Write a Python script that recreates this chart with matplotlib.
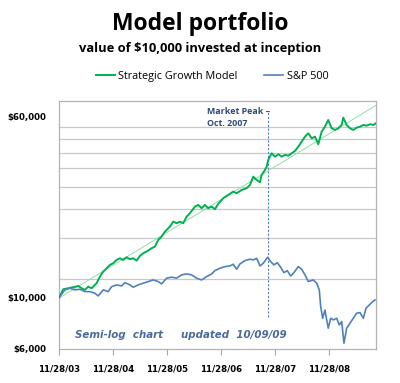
import datetime as dt

import matplotlib
matplotlib.use("Agg")
import matplotlib.pyplot as plt
import numpy as np

# years since inception (11/28/03) and portfolio value in $
inception = dt.datetime(2003, 11, 28)

growth_t = [0.0, 0.074, 0.167, 0.259, 0.352, 0.415, 0.476, 0.537, 0.6, 0.693,
            0.754, 0.815, 0.878, 0.939, 1.0, 1.063, 1.124, 1.185, 1.248, 1.309,
            1.37, 1.433, 1.494, 1.556, 1.648, 1.711, 1.772, 1.833, 1.896, 1.957,
            2.05, 2.111, 2.174, 2.235, 2.296, 2.359, 2.42, 2.513, 2.574, 2.637,
            2.698, 2.759, 2.822, 2.883, 2.944, 3.037, 3.13, 3.222, 3.285, 3.378,
            3.47, 3.531, 3.593, 3.656, 3.717, 3.748, 3.809, 3.841, 3.87, 3.933,
            3.994, 4.056, 4.119, 4.18, 4.241, 4.304, 4.365, 4.426, 4.489, 4.55,
            4.611, 4.674, 4.735, 4.796, 4.859, 4.92, 4.981, 5.044, 5.106, 5.167,
            5.23, 5.259, 5.322, 5.383, 5.444, 5.507, 5.569, 5.63, 5.693, 5.754,
            5.815, 5.865]
growth_val = [10000, 10840, 10950, 11060, 11200, 10950, 10770, 11120, 10950, 11510,
              12290, 12910, 13350, 13800, 14030, 14500, 14740, 14500, 14890, 14600,
              14740, 14400, 15090, 15490, 15900, 16280, 16540, 17680, 18270, 19190,
              20170, 21190, 20860, 21190, 20860, 22270, 23030, 24600, 25010, 24210,
              25010, 24210, 24600, 23970, 25260, 26730, 27620, 28540, 28090, 29020,
              29510, 30490, 33100, 32030, 31310, 33670, 35370, 36550, 39070, 41750,
              40360, 41330, 40360, 41050, 40760, 41750, 42710, 44570, 46830, 49210,
              50890, 48430, 49210, 45640, 51710, 54340, 58070, 53490, 52590, 53490,
              55260, 59410, 55260, 53490, 52590, 53810, 54340, 55260, 54890, 55650,
              55260, 56200]

sp_t = [0.0, 0.106, 0.198, 0.291, 0.383, 0.476, 0.569, 0.661, 0.722, 0.815,
        0.907, 0.97, 1.063, 1.156, 1.217, 1.309, 1.37, 1.463, 1.556, 1.648,
        1.741, 1.833, 1.896, 1.989, 2.081, 2.174, 2.267, 2.359, 2.452, 2.544,
        2.637, 2.73, 2.822, 2.883, 2.976, 3.069, 3.161, 3.222, 3.285, 3.346,
        3.439, 3.531, 3.593, 3.656, 3.717, 3.778, 3.859, 3.915, 3.976, 4.037,
        4.1, 4.161, 4.222, 4.285, 4.346, 4.426, 4.489, 4.55, 4.611, 4.704,
        4.767, 4.815, 4.841, 4.878, 4.92, 4.952, 4.981, 5.026, 5.074, 5.137,
        5.185, 5.23, 5.272, 5.322, 5.383, 5.444, 5.507, 5.569, 5.63, 5.68,
        5.741, 5.804, 5.846]
sp_val = [10000, 10770, 10950, 10770, 10840, 10590, 10590, 10420, 10150, 10770,
          10590, 11120, 11320, 11200, 11580, 11320, 11060, 11320, 11510, 11700,
          11890, 11700, 11430, 12100, 12220, 12100, 12500, 12620, 12500, 12100,
          11890, 12290, 12620, 13040, 13350, 13570, 13660, 13890, 13220, 13930,
          14400, 14600, 14500, 14740, 13660, 14030, 14890, 14260, 13800, 14110,
          13480, 12780, 13040, 12370, 12780, 13570, 13220, 12500, 11700, 11890,
          11510, 10770, 9130, 8130, 8830, 8000, 7370, 8130, 8000, 8130,
          7610, 7870, 6350, 7370, 7740, 8130, 8550, 8600, 8130, 8980,
          9280, 9590, 9750]

peak_date = dt.datetime(2007, 10, 9)
peak_span = [8200, 63500]

tick_years = [2003, 2004, 2005, 2006, 2007, 2008]
tick_labels = ["11/28/03", "11/28/04", "11/28/05", "11/28/06", "11/28/07", "11/28/08"]
ytick_vals = [6000, 10000, 60000]
ytick_labels = ["$6,000", "$10,000", "$60,000"]
grid_vals = [6000 * k for k in range(2, 11)]


def to_dates(ts):
    return [inception + dt.timedelta(days=365.25 * t) for t in ts]


growth_dates = to_dates(growth_t)
sp_dates = to_dates(sp_t)

# exponential trend line, like Excel's
coef = np.polyfit(growth_t, np.log(growth_val), 1)
trend_t = np.array([growth_t[0], growth_t[-1]])
trend_val = np.exp(np.polyval(coef, trend_t))

GREEN = "#00B050"
BLUE = "#4F81BD"
GRID = "#C8C8C8"

fig = plt.figure(figsize=(4.0, 3.83), dpi=100)
ax = fig.add_axes([0.148, 0.089, 0.792, 0.647])

ax.plot(to_dates(trend_t), trend_val, color="#8FE0A8", linewidth=0.7, zorder=2)
ax.plot(growth_dates, growth_val, color=GREEN, linewidth=1.4, zorder=3,
        label="Strategic Growth Model")
ax.plot(sp_dates, sp_val, color=BLUE, linewidth=1.2, zorder=3, label="S&P 500")
ax.plot([peak_date, peak_date], peak_span, color=BLUE, linestyle=(0, (2, 1.5)),
        linewidth=0.8, zorder=2)

ax.set_yscale("log")
ax.set_ylim(6000, 70000)
ax.set_xlim(inception, to_dates([5.865])[0])

ax.set_yticks(ytick_vals)
ax.set_yticklabels(ytick_labels)
ax.set_yticks(grid_vals, minor=True)
ax.yaxis.set_minor_formatter(plt.NullFormatter())
ax.grid(True, which="minor", axis="y", color=GRID, linewidth=0.9)
ax.tick_params(axis="y", which="both", length=0, pad=9)

ax.set_xticks([dt.datetime(y, 11, 28) for y in tick_years])
ax.set_xticklabels(tick_labels)
ax.tick_params(axis="x", length=4, color="#A6A6A6", pad=7)

for lab in ax.get_xticklabels() + ax.get_yticklabels():
    lab.set_fontsize(6.2)
    lab.set_fontweight("bold")
    lab.set_family("DejaVu Sans")

for side in ["left", "right", "top", "bottom"]:
    ax.spines[side].set_color("#B3B3B3")
    ax.spines[side].set_linewidth(0.9)

ax.text(0.465, 0.975, "Market Peak \u2013\nOct. 2007", transform=ax.transAxes,
        ha="left", va="top", fontsize=6.4, fontweight="bold", color="#2E4A7A",
        family="Open Sans", linespacing=1.45)
ax.text(0.05, 0.045, "Semi-log  chart", transform=ax.transAxes, fontsize=7.4,
        fontweight="bold", fontstyle="italic", color="#4A6A9A")
ax.text(0.385, 0.045, "updated  10/09/09", transform=ax.transAxes, fontsize=7.4,
        fontweight="bold", fontstyle="italic", color="#4A6A9A")

fig.text(0.5, 0.938, "Model portfolio", ha="center", va="center", fontsize=16.5,
         fontweight="bold", family="Open Sans")
fig.text(0.5, 0.873, "value of $10,000 invested at inception", ha="center",
         va="center", fontsize=9.3, fontweight="bold", family="Open Sans")
fig.legend(loc="center", bbox_to_anchor=(0.53, 0.80), ncol=2, frameon=False,
           prop={"family": "Open Sans", "size": 7.8}, handlelength=1.8,
           handletextpad=0.3, columnspacing=2.4)

fig.savefig("out.png", dpi=100)
